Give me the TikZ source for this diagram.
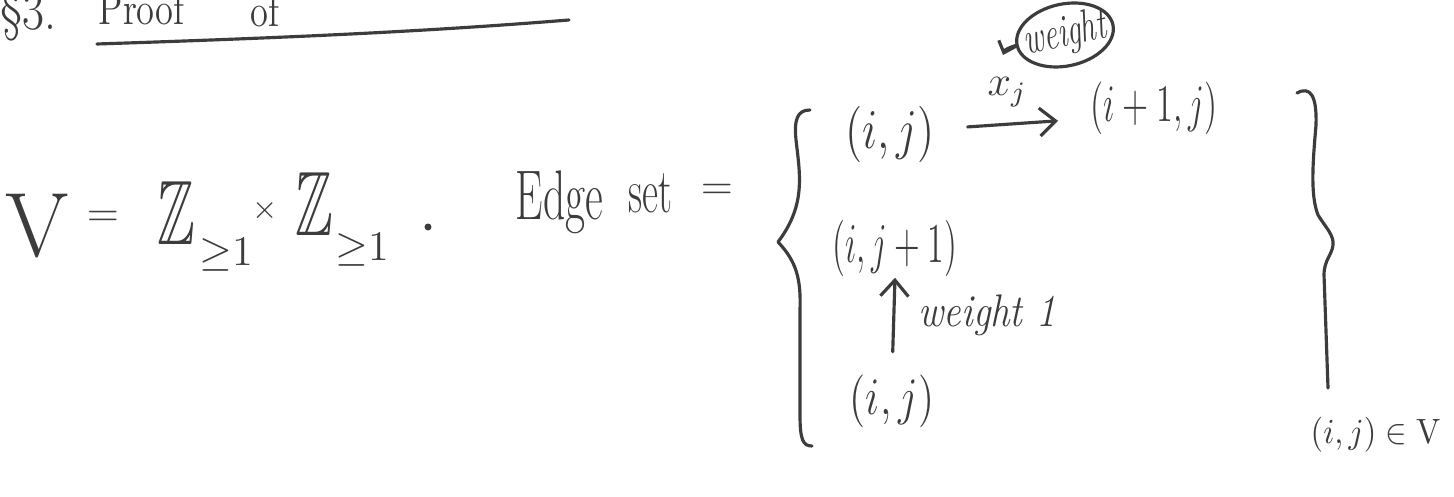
\RequirePackage{fix-cm}
\documentclass[tikz,border=0pt]{standalone}
\usepackage{amsmath,amssymb}
\usepackage{graphicx}
\usepackage{xcolor}
\usepackage{tikz}
\usetikzlibrary{arrows.meta,positioning,shapes.geometric}

\definecolor{ink}{HTML}{3C3C3C}
% handwriting is narrow: squeeze text sideways
\newcommand{\hsqueeze}[2][0.62]{\scalebox{#1}[1]{#2}}

\begin{document}
\begin{tikzpicture}[x=0.1mm, y=-0.1mm, color=ink,
  bigsym/.style={inner sep=0pt, font=\fontsize{26}{30}\selectfont},
  sub/.style={inner sep=0pt, font=\fontsize{12}{14}\selectfont},
  word/.style={inner sep=0pt, anchor=base west, font=\fontsize{20}{24}\selectfont},
  pair/.style={inner sep=0pt, anchor=base, font=\fontsize{16}{19}\selectfont},
  note/.style={inner sep=0pt, font=\fontsize{13}{15}\selectfont\itshape},
  arrow/.style={-{Straight Barb[length=1.6mm,width=2.8mm]}, line width=0.9pt, line cap=round},
  brace/.style={line width=0.9pt, line cap=round, line join=round}
]
\fill[white] (0,0) rectangle (1454,497);
\useasboundingbox (0,0) rectangle (1454,497);
\clip (0,0) rectangle (1454,497);

% title, cut off by the top edge
\node[word, font=\fontsize{16}{19}\selectfont] (sec) at (0,30) {\hsqueeze[0.85]{\S3.}};
\node[word, font=\fontsize{13}{16}\selectfont] (proof) at (98,25) {\hsqueeze[0.8]{Proof}};
\node[word, font=\fontsize{13}{16}\selectfont] (of) at (250,27) {\hsqueeze[0.8]{of}};
\draw[brace] (97,44) .. controls (280,38) and (420,32) .. (569,20);

% vertex set
\node[bigsym] (vset) at (38,225) {$\mathrm{V}$};
\node[sub] (eqv) at (103,219) {$=$};
\node[bigsym] (zz1) at (176,213) {\hsqueeze[0.62]{$\mathbb{Z}$}};
\node[sub] (ge1) at (226,255) {${\geq}1$};
\node[sub, font=\fontsize{9}{11}\selectfont] (times) at (265,211) {$\times$};
\node[bigsym] (zz2) at (314,204) {\hsqueeze[0.62]{$\mathbb{Z}$}};
\node[sub] (ge2) at (362,250) {${\geq}1$};
\node[circle, fill=ink, inner sep=0.7pt] (dot) at (428,227) {};

% edge set
\node[word] (edge) at (515,220) {\hsqueeze{Edge}};
\node[word, font=\fontsize{18}{22}\selectfont] (set) at (628,213) {\hsqueeze{set}};
\node[sub] (eqe) at (717,192) {$=$};

\draw[brace] (810,110) .. controls (797,110) and (794,120) .. (796,140)
  .. controls (800,175) and (806,205) .. (778,242)
  .. controls (797,262) and (801,280) .. (800,310) -- (800,415)
  .. controls (800,440) and (803,446) .. (812,446);
\draw[brace] (1297,93) .. controls (1310,86) and (1317,95) .. (1316,125)
  .. controls (1313,160) and (1310,195) .. (1318,215)
  .. controls (1326,228) and (1334,235) .. (1333,245)
  .. controls (1332,255) and (1324,260) .. (1324,275) -- (1328,388);

% horizontal edge
\node[pair] (ij) at (890,149) {\hsqueeze[0.8]{$(i,j)$}};
\node[pair, anchor=base west, font=\fontsize{15}{18}\selectfont] (ip) at (1090,122) {\hsqueeze[0.65]{$(i+1,j)$}};
\draw[arrow] ([shift={(32,-8)}]ij.east) -- ([shift={(-32,12)}]ip.west);
\node[sub] (xj) at (1007,92) {$x_j$};
\node[note, draw, ellipse, rotate=12, line width=0.9pt, inner xsep=-1.5mm, inner ysep=0pt,
  minimum width=0.98cm, minimum height=0.62cm] (wt) at (1065,35) {\hsqueeze[0.68]{weight}};
\coordinate (xjtip) at (1003,55);
\draw[arrow, -{Straight Barb[length=1mm,width=1.8mm]}] (wt.west) to[out=200, in=70] (xjtip);

% vertical edge
\node[pair] (ijp) at (895,263) {\hsqueeze[0.6]{$(i,j+1)$}};
\node[pair, font=\fontsize{15}{18}\selectfont] (ijb) at (892,415) {\hsqueeze[0.8]{$(i,j)$}};
\draw[arrow, shorten <=2.3mm] (ijb.north) -- (ijp.south);
\node[note, anchor=base west] (wone) at (918,327) {\hsqueeze[0.85]{weight 1}};

\node[pair, anchor=base west, font=\fontsize{10}{12}\selectfont] (range) at (1310,444) {\hsqueeze[0.92]{$(i,j)\in\mathrm{V}$}};
\end{tikzpicture}
\end{document}
